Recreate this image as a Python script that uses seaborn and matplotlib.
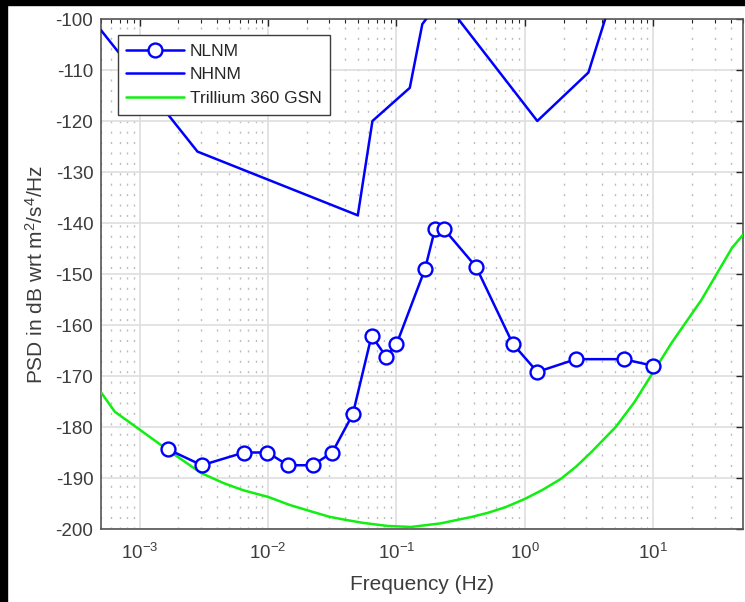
import numpy as np
import pandas as pd
import matplotlib
matplotlib.use("Agg")
import matplotlib.pyplot as plt
from matplotlib.patches import Rectangle
from matplotlib.ticker import LogLocator, NullFormatter, MultipleLocator
import seaborn as sns

# ---------------- data ----------------
nlnm_freq = [0.00167, 0.00305, 0.0065, 0.0099, 0.0143, 0.0222, 0.0316, 0.0457,
             0.064, 0.083, 0.1, 0.167, 0.2, 0.233, 0.417, 0.806, 1.25, 2.5, 5.88, 10.0]
nlnm_psd = [-184.4, -187.5, -185.0, -185.0, -187.5, -187.5, -185.0, -177.5,
            -162.1, -166.2, -163.8, -149.0, -141.1, -141.1, -148.6, -163.7,
            -169.2, -166.7, -166.7, -168.0]

nhnm_freq = [0.0005, 0.00282, 0.05, 0.065, 0.127, 0.159, 0.217, 0.263,
             1.25, 3.125, 4.55, 10.0]
nhnm_psd = [-102.2, -126.0, -138.5, -120.0, -113.5, -101.0, -96.5, -98.0,
            -120.0, -110.5, -97.4, -91.5]

tri_freq = [0.0005, 0.00064, 0.0017, 0.003, 0.0045, 0.0064, 0.01, 0.0148, 0.022,
            0.03, 0.04, 0.055, 0.085, 0.13, 0.22, 0.39, 0.52, 0.71, 1.0, 1.38,
            1.9, 2.5, 3.3, 5.1, 7.1, 9.9, 13.9, 23.7, 41.0, 50.0]
tri_psd = [-173.2, -177.0, -184.7, -189.0, -191.0, -192.4, -193.7, -195.3, -196.6,
           -197.6, -198.2, -198.8, -199.4, -199.6, -198.9, -197.6, -196.8, -195.7,
           -194.1, -192.3, -190.2, -187.8, -184.9, -180.0, -175.2, -169.4, -163.5,
           -155.1, -144.9, -142.3]

labels = ["NLNM", "NHNM", "Trillium 360 GSN"]
xlabel = "Frequency (Hz)"
ylabel = "PSD in dB wrt m$^2$/s$^4$/Hz"

# ---------------- style ----------------
sns.set_style("white")
plt.rcParams["font.family"] = ["Liberation Sans", "DejaVu Sans"]
plt.rcParams["mathtext.fontset"] = "custom"
plt.rcParams["mathtext.rm"] = "Liberation Sans"
plt.rcParams["mathtext.it"] = "Liberation Sans:italic"
plt.rcParams["mathtext.default"] = "regular"
plt.rcParams["axes.unicode_minus"] = False

text_col = "#3c3c3c"
axis_col = "#262626"

W, H = 745, 602
fig = plt.figure(figsize=(W / 100, H / 100), dpi=100)
fig.patch.set_facecolor("white")
ax = fig.add_axes([101 / W, (H - 529) / H, (743 - 101) / W, (529 - 19) / H])

df_nl = pd.DataFrame({"f": nlnm_freq, "psd": nlnm_psd})
df_nh = pd.DataFrame({"f": nhnm_freq, "psd": nhnm_psd})
df_tr = pd.DataFrame({"f": tri_freq, "psd": tri_psd})

sns.lineplot(data=df_nl, x="f", y="psd", ax=ax, color="#0000ff", lw=1.8,
             marker="o", markersize=10, markerfacecolor="white",
             markeredgecolor="#0000ff", markeredgewidth=1.7, label=labels[0], zorder=4)
sns.lineplot(data=df_nh, x="f", y="psd", ax=ax, color="#0000ff", lw=1.8,
             label=labels[1], zorder=3)
sns.lineplot(data=df_tr, x="f", y="psd", ax=ax, color="#11ee11", lw=1.8,
             label=labels[2], zorder=3)

ax.set_xscale("log")
ax.set_xlim(5e-4, 50)
ax.set_ylim(-200, -100)
ax.xaxis.set_major_locator(LogLocator(base=10, numticks=20))
ax.xaxis.set_minor_locator(LogLocator(base=10, subs=np.arange(2, 10), numticks=100))
ax.xaxis.set_minor_formatter(NullFormatter())
ax.yaxis.set_major_locator(MultipleLocator(10))

ax.grid(True, which="major", color="#dedede", lw=1.2, ls="-")
ax.grid(True, which="minor", axis="x", color="#bdbdbd", lw=1.0, ls=(0, (1.5, 6)))
ax.set_axisbelow(True)

ax.tick_params(axis="both", which="both", direction="in", top=True, right=True,
               color=axis_col, labelcolor=text_col)
ax.tick_params(axis="both", which="major", length=5, width=1.0, labelsize=13.5)
ax.tick_params(axis="x", which="minor", length=3, width=0.8)
ax.tick_params(axis="x", which="major", pad=10)
ax.tick_params(axis="y", which="major", pad=5.5)
for s in ax.spines.values():
    s.set_color("#555555")
    s.set_linewidth(1.2)

ax.set_xlabel(xlabel, fontsize=15, color=text_col, labelpad=9)
ax.set_ylabel(ylabel, fontsize=15, color=text_col, labelpad=6)

leg = ax.legend(loc="upper left", bbox_to_anchor=(0.026, 0.969), fontsize=12.5,
                frameon=True, fancybox=False, framealpha=1, edgecolor="#3c3c3c",
                handlelength=3.3, handletextpad=0.35, labelspacing=0.5,
                borderpad=0.5, borderaxespad=0)
leg.get_frame().set_linewidth(1.0)
for t in leg.get_texts():
    t.set_color("#262626")

# black border strips of the screenshot
fig.add_artist(Rectangle((0, 1 - 5 / H), 1, 5 / H, transform=fig.transFigure,
                         color="black", zorder=10))
fig.add_artist(Rectangle((0, 0), 7 / W, 1, transform=fig.transFigure,
                         color="black", zorder=10))

fig.savefig("out.png", dpi=100)
